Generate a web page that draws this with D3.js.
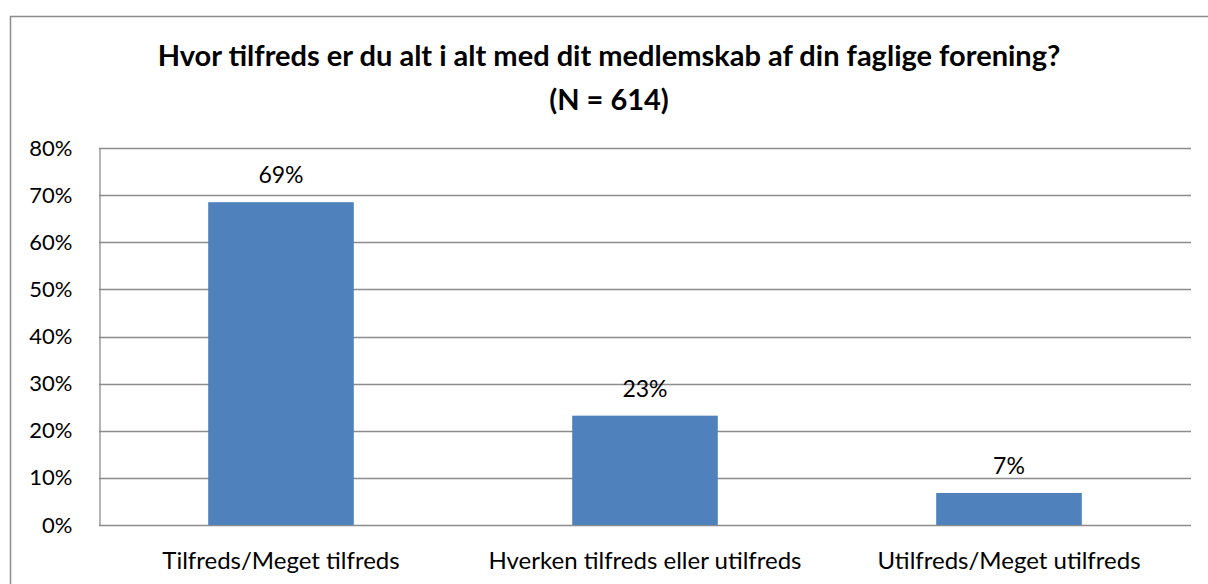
<!DOCTYPE html>
<meta charset="utf-8">
<head>
  <title>Tilfredshed med medlemskab</title>
</head>
<style>
  html, body {
    margin: 0;
    height: 100%;
    overflow: hidden;
    background: #fff;
  }
  text {
    font-family: Lato, "Open Sans", sans-serif;
    fill: #000;
  }
</style>
<body>
<script src="https://d3js.org/d3.v7.min.js"></script>
<script>
var categories = ['Tilfreds/Meget tilfreds', 'Hverken tilfreds eller utilfreds', 'Utilfreds/Meget utilfreds']
var values = [0.685, 0.232, 0.068]
var value_labels = ['69%', '23%', '7%']
var y_ticks = [0, 0.1, 0.2, 0.3, 0.4, 0.5, 0.6, 0.7, 0.8]
var title_lines = ['Hvor tilfreds er du alt i alt med dit medlemskab af din faglige forening?', '(N = 614)']

var W = 1208, H = 584;
var plot = {left: 99, right: 1191, top: 148, bottom: 525};

var svg = d3.select('body').append('svg')
  .attr('width', W)
  .attr('height', H);

// outer chart frame, runs off the right and bottom edge
svg.append('rect')
  .attr('x', 10.5).attr('y', 16.5)
  .attr('width', W + 20).attr('height', H + 20)
  .attr('fill', 'none')
  .attr('stroke', '#8c8c8c')
  .attr('stroke-width', 1.5);

svg.selectAll('text.title').data(title_lines).enter()
  .append('text')
  .attr('class', 'title')
  .attr('x', 609)
  .attr('y', function(d, i) { return 66 + i * 44 })
  .attr('text-anchor', 'middle')
  .style('font-weight', 'bold')
  .style('font-size', '29px')
  .text(function(d) { return d });

var x = d3.scaleBand()
  .domain(categories)
  .range([plot.left, plot.right])
  .paddingInner(0.6)
  .paddingOuter(0.3);

var y = d3.scaleLinear()
  .domain([0, 0.8])
  .range([plot.bottom, plot.top]);

// gridlines
svg.append('g')
  .selectAll('line').data(y_ticks).enter()
  .append('line')
  .attr('x1', plot.left).attr('x2', plot.right)
  .attr('y1', function(d) { return Math.round(y(d)) + 0.5 })
  .attr('y2', function(d) { return Math.round(y(d)) + 0.5 })
  .attr('stroke', '#8c8c8c')
  .attr('stroke-width', 1.3);

var yAxis = d3.axisLeft(y)
  .tickValues(y_ticks)
  .tickFormat(d3.format('.0%'))
  .tickSize(0)
  .tickPadding(27);

var gy = svg.append('g')
  .attr('transform', 'translate(' + (plot.left + 0.5) + ',0)')
  .call(yAxis);
gy.select('.domain').attr('stroke', '#8c8c8c').attr('stroke-width', 1.3);
gy.selectAll('text').style('font-size', '22px').attr('font-family', null);

svg.selectAll('rect.bar').data(values).enter()
  .append('rect')
  .attr('class', 'bar')
  .attr('x', function(d, i) { return x(categories[i]) })
  .attr('width', x.bandwidth())
  .attr('y', function(d) { return y(d) })
  .attr('height', function(d) { return y(0) - y(d) })
  .attr('fill', '#4f81bd');

svg.selectAll('text.vlabel').data(values).enter()
  .append('text')
  .attr('class', 'vlabel')
  .attr('x', function(d, i) { return x(categories[i]) + x.bandwidth() / 2 })
  .attr('y', function(d) { return y(d) - 19 })
  .attr('text-anchor', 'middle')
  .style('font-size', '23px')
  .text(function(d, i) { return value_labels[i] });

var xAxis = d3.axisBottom(x).tickSize(0).tickPadding(27);
var gx = svg.append('g')
  .attr('transform', 'translate(0,' + plot.bottom + ')')
  .call(xAxis);
gx.select('.domain').remove();
gx.selectAll('text').style('font-size', '24px').attr('font-family', null);
</script>
</body>
